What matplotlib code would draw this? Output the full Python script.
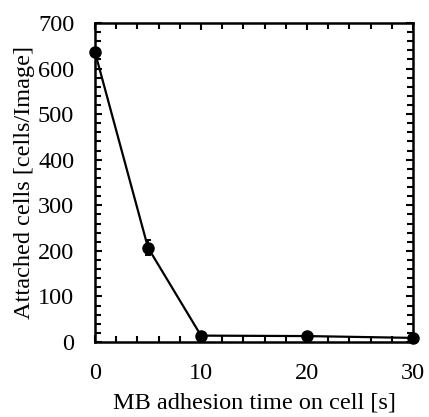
import numpy as np
import matplotlib
matplotlib.use('Agg')
import matplotlib.pyplot as plt
from matplotlib.ticker import MultipleLocator

# data
time_s = [0, 5, 10, 20, 30]
cells = [636, 207, 14, 13, 9]
cells_err = [5, 17, 3, 3, 2]

plt.rcParams['font.family'] = 'Liberation Serif'
plt.rcParams['font.size'] = 17.5

fig = plt.figure(figsize=(4.29, 4.17), dpi=100)
ax = fig.add_axes([95/429, 1 - 342/417, (413-95)/429, (342-23)/417])

ax.errorbar(time_s, cells, yerr=cells_err, color='black', marker='o',
            markersize=8, linewidth=1.6, elinewidth=1.4, capsize=2, capthick=1.4,
            clip_on=False, zorder=3)

ax.set_xlim(0, 30)
ax.set_ylim(0, 700)
ax.xaxis.set_major_locator(MultipleLocator(10))
ax.xaxis.set_minor_locator(MultipleLocator(2))
ax.yaxis.set_major_locator(MultipleLocator(100))
ax.yaxis.set_minor_locator(MultipleLocator(20))
ax.tick_params(which='both', direction='in', top=True, right=True, width=1.5)
ax.tick_params(which='major', length=5)
ax.tick_params(which='minor', length=4)
ax.tick_params(axis='x', which='major', pad=15)
ax.tick_params(axis='y', which='major', pad=15)
for sp in ax.spines.values():
    sp.set_linewidth(1.8)

ax.set_xlabel('MB adhesion time on cell [s]', labelpad=6)
ax.set_ylabel('Attached cells [cells/Image]', labelpad=2)

fig.savefig('out.png', dpi=100)
